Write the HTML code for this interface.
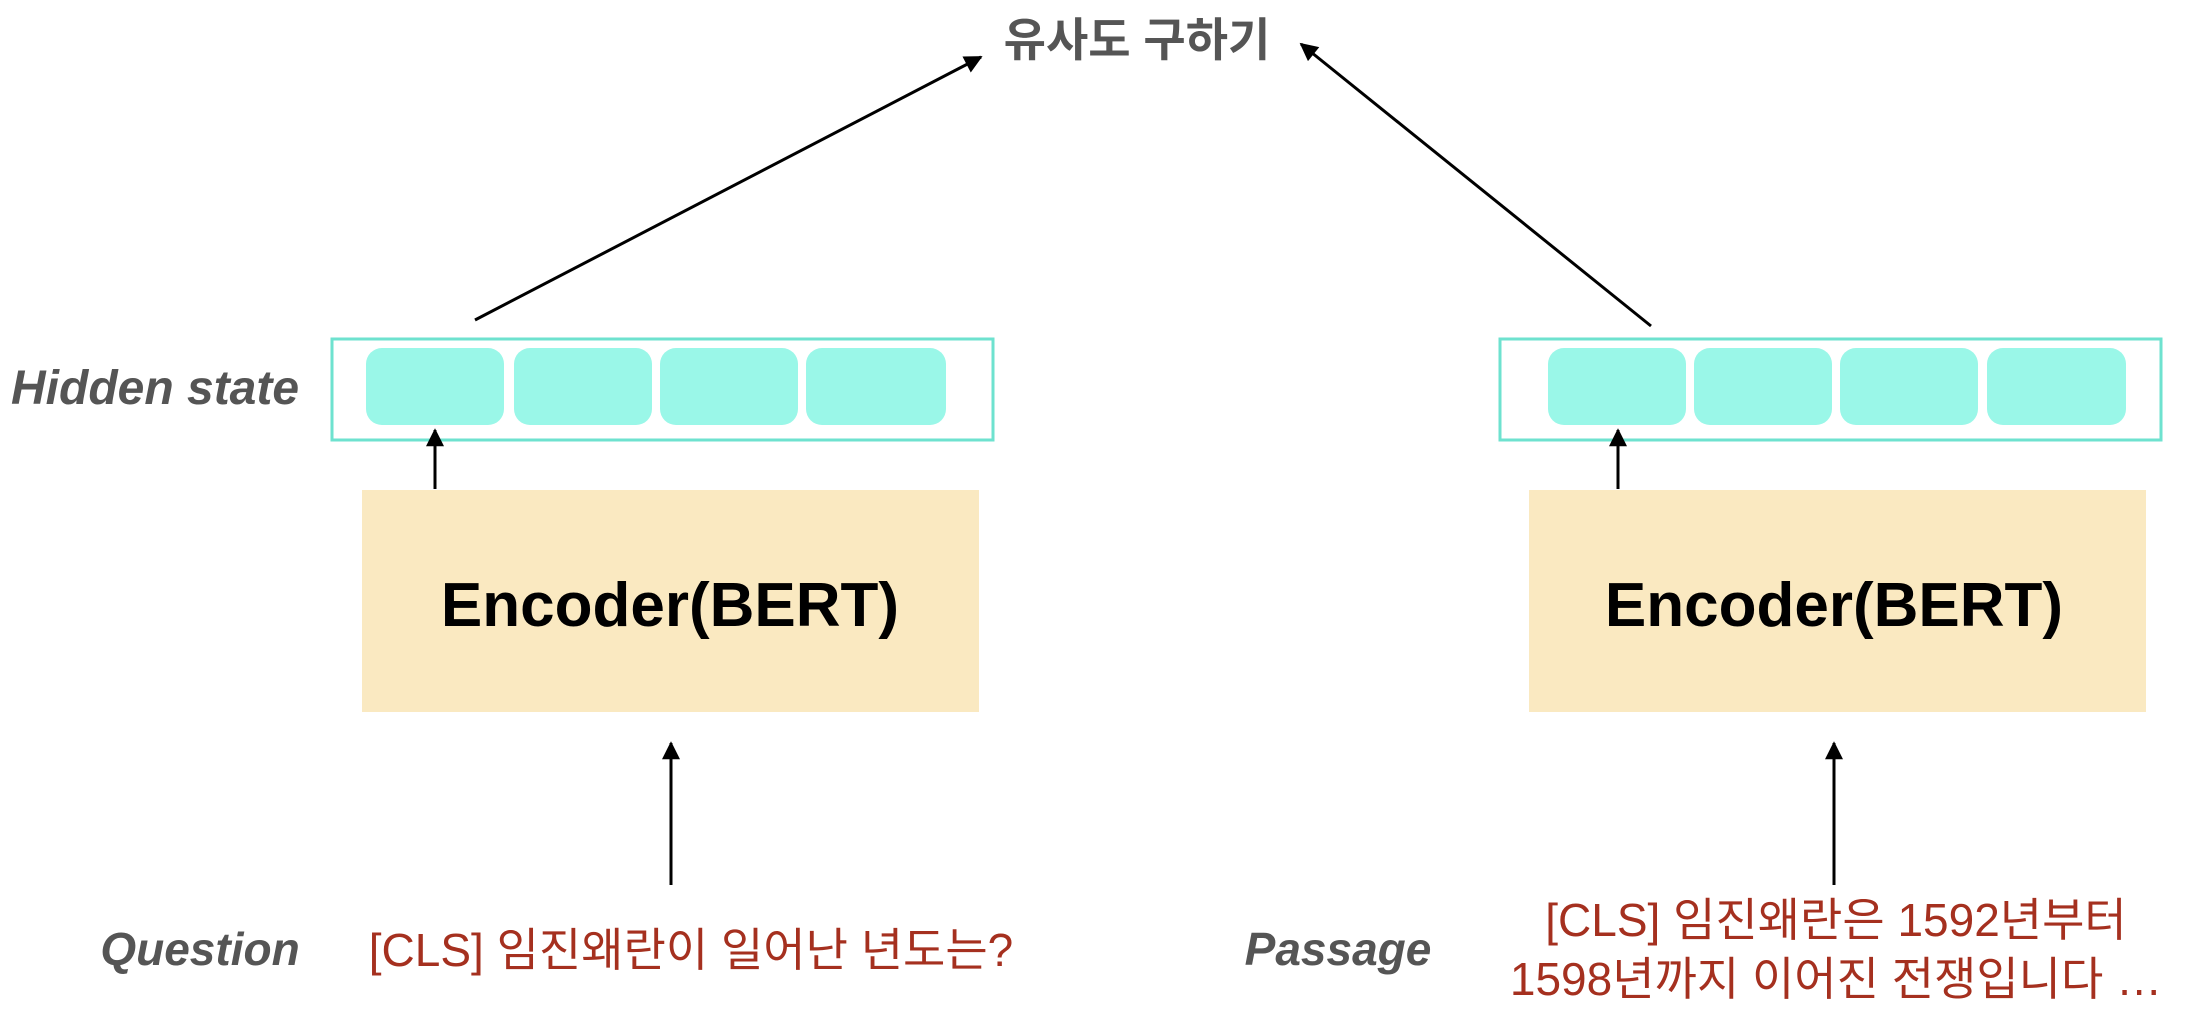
<!DOCTYPE html>
<html><head><meta charset="utf-8"><style>
html,body{margin:0;padding:0;background:#fff;}
svg{display:block;}
</style></head><body>
<svg width="2190" height="1016" viewBox="0 0 2190 1016" xmlns="http://www.w3.org/2000/svg">
<defs>
<marker id="a" viewBox="0 0 10 10" refX="9" refY="5" markerWidth="20" markerHeight="18" markerUnits="userSpaceOnUse" orient="auto">
<path d="M0,0 L10,5 L0,10 z" fill="#000"/>
</marker>
</defs>
<text x="1137" y="56" text-anchor="middle" font-family="'Liberation Sans','Noto Sans CJK KR',sans-serif" font-size="46" font-weight="bold" fill="#555">유사도 구하기</text>
<line x1="475" y1="320" x2="981" y2="57" stroke="#000" stroke-width="3" marker-end="url(#a)"/>
<line x1="1651" y1="326" x2="1301" y2="44" stroke="#000" stroke-width="3" marker-end="url(#a)"/>
<text x="11" y="404" font-family="'Liberation Sans',sans-serif" font-size="48" font-weight="bold" font-style="italic" fill="#555">Hidden state</text>
<rect x="332" y="339" width="661" height="101" fill="none" stroke="#6ee2cf" stroke-width="3"/>
<g fill="#9af7e8">
<rect x="366" y="348" width="138" height="77" rx="16"/>
<rect x="514" y="348" width="138" height="77" rx="16"/>
<rect x="660" y="348" width="138" height="77" rx="16"/>
<rect x="806" y="348" width="140" height="77" rx="16"/>
</g>
<rect x="1500" y="339" width="661" height="101" fill="none" stroke="#6ee2cf" stroke-width="3"/>
<g fill="#9af7e8">
<rect x="1548" y="348" width="138" height="77" rx="16"/>
<rect x="1694" y="348" width="138" height="77" rx="16"/>
<rect x="1840" y="348" width="138" height="77" rx="16"/>
<rect x="1987" y="348" width="139" height="77" rx="16"/>
</g>
<line x1="435" y1="489" x2="435" y2="430" stroke="#000" stroke-width="3" marker-end="url(#a)"/>
<line x1="1618" y1="489" x2="1618" y2="430" stroke="#000" stroke-width="3" marker-end="url(#a)"/>
<rect x="362" y="490" width="617" height="222" fill="#fae9c1"/>
<rect x="1529" y="490" width="617" height="222" fill="#fae9c1"/>
<text x="670" y="626" text-anchor="middle" font-family="'Liberation Sans',sans-serif" font-size="62" font-weight="bold" fill="#000">Encoder(BERT)</text>
<text x="1834" y="626" text-anchor="middle" font-family="'Liberation Sans',sans-serif" font-size="62" font-weight="bold" fill="#000">Encoder(BERT)</text>
<line x1="671" y1="885" x2="671" y2="743" stroke="#000" stroke-width="3" marker-end="url(#a)"/>
<line x1="1834" y1="885" x2="1834" y2="743" stroke="#000" stroke-width="3" marker-end="url(#a)"/>
<text x="200" y="965" text-anchor="middle" font-family="'Liberation Sans',sans-serif" font-size="46" font-weight="bold" font-style="italic" fill="#555">Question</text>
<text x="1338" y="965" text-anchor="middle" font-family="'Liberation Sans',sans-serif" font-size="46" font-weight="bold" font-style="italic" fill="#555">Passage</text>
<text x="691" y="966" text-anchor="middle" font-family="'Liberation Sans','Noto Sans CJK KR',sans-serif" font-size="46" fill="#a5301f">[CLS] 임진왜란이 일어난 년도는?</text>
<text x="1836" y="936" text-anchor="middle" font-family="'Liberation Sans','Noto Sans CJK KR',sans-serif" font-size="46" fill="#a5301f">[CLS] 임진왜란은 1592년부터</text>
<text x="1836" y="995" text-anchor="middle" font-family="'Liberation Sans','Noto Sans CJK KR',sans-serif" font-size="46" fill="#a5301f">1598년까지 이어진 전쟁입니다 …</text>
</svg>
</body></html>
